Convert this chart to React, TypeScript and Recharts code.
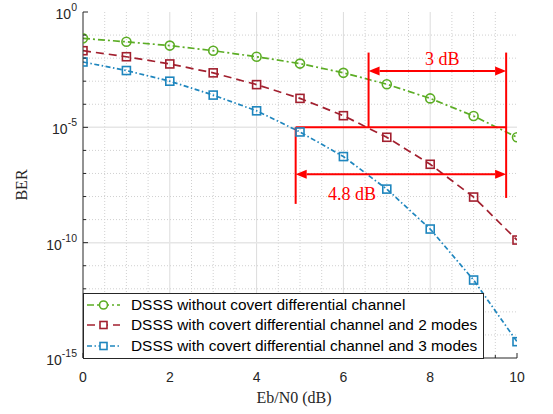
import React from 'react';
import { LineChart, Line, XAxis, YAxis, ReferenceLine, ReferenceDot, Legend } from 'recharts';

// ---- data ----
const snrDb = [0, 1, 2, 3, 4, 5, 6, 7, 8, 9, 10];
const berNoCovert = [7.2e-2, 5.1e-2, 3.5e-2, 2.1e-2, 1.15e-2, 5.8e-3, 2.3e-3, 7.4e-4, 1.8e-4, 3.1e-5, 3.7e-6];
const berTwoModes = [2.1e-2, 1.15e-2, 5.6e-3, 2.3e-3, 7.1e-4, 1.8e-4, 3.2e-5, 3.7e-6, 2.5e-7, 9.5e-9, 1.3e-10];
const berThreeModes = [6.8e-3, 2.9e-3, 1.0e-3, 2.5e-4, 5.2e-5, 6.3e-6, 5.4e-7, 2.1e-8, 3.9e-10, 2.4e-12, 5.1e-15];
const seriesNames = [
  'DSSS without covert differential channel',
  'DSSS with covert differential channel and 2 modes',
  'DSSS with covert differential channel and 3 modes',
];
const seriesColors = ['#5CAD25', '#A2202F', '#1F86BE'];
const seriesDash = ['7 3 2 3', '8 5', '5 2.5 1.5 2.5'];
const seriesMarker = ['circle', 'square', 'square'];

const xTicks = [0, 0.5, 1, 1.5, 2, 2.5, 3, 3.5, 4, 4.5, 5, 5.5, 6, 6.5, 7, 7.5, 8, 8.5, 9, 9.5, 10];
const xMajor = [0, 2, 4, 6, 8, 10];
const yTicks = [1e-15, 1e-14, 1e-13, 1e-12, 1e-11, 1e-10, 1e-9, 1e-8, 1e-7, 1e-6, 1e-5, 1e-4, 1e-3, 1e-2, 1e-1, 1];
const yMajor = [1e-15, 1e-10, 1e-5, 1];

// annotation (data coordinates)
const refLevel = 1e-5;
const gapLeftX = [6.58, 4.9];        // 3 dB, 4.8 dB left edges
const gapRightX = 9.75;
const gapArrowY = [2.75e-3, 9.3e-8];
const vertTop = 1.74e-2;
const vertBottomRight = 8.7e-9;
const vertBottomLeft48 = 4.8e-9;
const gapLabels = ['3 dB', '4.8 dB'];
const gapLabelX = [8.28, 6.2];
const gapLabelY = [9.1e-3, 1.26e-8];

const rows = snrDb.map((x, i) => ({ x, s0: berNoCovert[i], s1: berTwoModes[i], s2: berThreeModes[i] }));

const AXIS = '#262626';
const RED = '#FF0000';
const SANS = '"Liberation Sans", Arial, sans-serif';
const SERIF = '"Liberation Serif", "Times New Roman", serif';

const isMajorY = (v: number) => Math.round(Math.log10(v)) % 5 === 0;
const isMajorX = (v: number) => xMajor.includes(v);

const LeftYTick = (p: any) => {
  const v = p.payload.value;
  const exp = Math.round(Math.log10(v));
  const major = exp % 5 === 0;
  const ax = p.x + 6;
  return (
    <g>
      <line x1={ax} x2={ax + (major ? 5 : 3)} y1={p.y} y2={p.y} stroke={AXIS} strokeWidth={1} />
      {major && (
        <text x={p.x} y={p.y + 7} textAnchor="end" fill={AXIS} fontFamily={SANS} fontSize={14}>
          <tspan>10</tspan>
          <tspan dy={-8} fontSize={10.5}>{String(exp)}</tspan>
        </text>
      )}
    </g>
  );
};

const RightYTick = (p: any) => {
  const major = isMajorY(p.payload.value);
  return <line x1={p.x} x2={p.x - (major ? 5 : 3)} y1={p.y} y2={p.y} stroke={AXIS} strokeWidth={1} />;
};

const BottomXTick = (p: any) => {
  const v = p.payload.value;
  const major = isMajorX(v);
  return (
    <g>
      <line x1={p.x} x2={p.x} y1={p.y} y2={p.y - (major ? 5 : 3)} stroke={AXIS} strokeWidth={1} />
      {major && (
        <text x={p.x} y={p.y + 24} textAnchor="middle" fill={AXIS} fontFamily={SANS} fontSize={14}>
          {String(v)}
        </text>
      )}
    </g>
  );
};

const TopXTick = (p: any) => {
  const major = isMajorX(p.payload.value);
  return <line x1={p.x} x2={p.x} y1={p.y} y2={p.y + (major ? 5 : 3)} stroke={AXIS} strokeWidth={1} />;
};

const makeDot = (idx: number) => (p: any) => {
  const { cx, cy, index } = p;
  if (cx == null || cy == null) return <g key={`d${idx}-${index}`} />;
  const c = seriesColors[idx];
  if (seriesMarker[idx] === 'circle') {
    return <circle key={`d${idx}-${index}`} cx={cx} cy={cy} r={4.5} fill="none" stroke={c} strokeWidth={1.6} />;
  }
  return <rect key={`d${idx}-${index}`} x={cx - 4} y={cy - 4} width={8} height={8} fill="none" stroke={c} strokeWidth={1.6} />;
};

const DoubleArrow = (p: any) => {
  const { x1, y1, x2, y2 } = p;
  const L = 11;
  const W = 4.5;
  const a = Math.min(x1, x2);
  const b = Math.max(x1, x2);
  const y = y1;
  return (
    <g>
      <line x1={a + L} x2={b - L} y1={y} y2={y2} stroke={RED} strokeWidth={2} />
      <polygon points={`${a},${y} ${a + L},${y - W} ${a + L},${y + W}`} fill={RED} />
      <polygon points={`${b},${y} ${b - L},${y - W} ${b - L},${y + W}`} fill={RED} />
    </g>
  );
};

const RedLine = (p: any) => (
  <line x1={p.x1} y1={p.y1} x2={p.x2} y2={p.y2} stroke={RED} strokeWidth={2} />
);

const makeLabel = (text: string) => (p: any) => (
  <text x={p.cx} y={p.cy} textAnchor="middle" dominantBaseline="central" fill={RED} fontFamily={SERIF} fontSize={18}>
    {text}
  </text>
);

const LegendBox = () => (
  <div
    style={{
      position: 'relative',
      width: 401,
      height: 66,
      boxSizing: 'border-box',
      border: `1px solid ${AXIS}`,
      background: '#fff',
      fontFamily: SANS,
      fontSize: 15.4,
      color: '#000',
    }}
  >
    {seriesNames.map((name, i) => {
      const c = seriesColors[i];
      const cy = 11 + i * 20.5;
      return (
        <div key={name} style={{ position: 'absolute', left: 0, top: cy - 10, height: 20, width: 399 }}>
          <svg width={44} height={20} style={{ position: 'absolute', left: 0, top: 0 }}>
            <line x1={3} x2={36} y1={10} y2={10} stroke={c} strokeWidth={1.6} strokeDasharray={seriesDash[i]} />
            {seriesMarker[i] === 'circle' ? (
              <circle cx={19.5} cy={10} r={4} fill="#fff" stroke={c} strokeWidth={1.6} />
            ) : (
              <rect x={16} y={6.5} width={7} height={7} fill="#fff" stroke={c} strokeWidth={1.6} />
            )}
          </svg>
          <span style={{ position: 'absolute', left: 47, top: 0, lineHeight: '20px', whiteSpace: 'nowrap' }}>{name}</span>
        </div>
      );
    })}
  </div>
);

export default function App() {
  return (
    <div style={{ position: 'absolute', left: 0, top: 0, width: 553, height: 414, background: '#fff' }}>
      <LineChart width={553} height={414} data={rows} margin={{ top: 12, right: 36, bottom: 0, left: 0 }}>
        <XAxis
          dataKey="x"
          type="number"
          domain={[0, 10]}
          ticks={xTicks}
          interval={0}
          tickSize={0}
          tickMargin={0}
          height={56}
          stroke={AXIS}
          tick={BottomXTick}
          allowDataOverflow
          label={(lp: any) => {
            const vb = lp.viewBox || {};
            return (
              <text x={(vb.x ?? 83) + (vb.width ?? 434) / 2 - 6} y={(vb.y ?? 358) + 45} textAnchor="middle" fill={AXIS} fontFamily={SERIF} fontSize={16}>
                Eb/N0 (dB)
              </text>
            );
          }}
        />
        <XAxis
          xAxisId="top"
          orientation="top"
          dataKey="x"
          type="number"
          domain={[0, 10]}
          ticks={xTicks}
          interval={0}
          tickSize={0}
          tickMargin={0}
          height={0}
          stroke={AXIS}
          tick={TopXTick}
          allowDataOverflow
        />
        <YAxis
          type="number"
          scale="log"
          domain={[1e-15, 1]}
          ticks={yTicks}
          interval={0}
          tickSize={0}
          tickMargin={6}
          width={83}
          stroke={AXIS}
          tick={LeftYTick}
          allowDataOverflow
          label={(lp: any) => {
            const vb = lp.viewBox || {};
            const cy = (vb.y ?? 12) + (vb.height ?? 346) / 2;
            return (
              <text x={27} y={cy} transform={`rotate(-90 27 ${cy})`} textAnchor="middle" fill={AXIS} fontFamily={SERIF} fontSize={16}>
                BER
              </text>
            );
          }}
        />
        <YAxis
          yAxisId="right"
          orientation="right"
          type="number"
          scale="log"
          domain={[1e-15, 1]}
          ticks={yTicks}
          interval={0}
          tickSize={0}
          tickMargin={0}
          width={0}
          stroke={AXIS}
          tick={RightYTick}
          allowDataOverflow
        />

        {xTicks.filter((v) => v > 0 && v < 10).map((v) => (
          <ReferenceLine
            key={`gx${v}`}
            x={v}
            stroke={isMajorX(v) ? '#DCDCDC' : '#D0D0D0'}
            strokeWidth={1}
            strokeDasharray={isMajorX(v) ? undefined : '1 2'}
          />
        ))}
        {yTicks.filter((v) => v > 1e-15 && v < 1).map((v) => (
          <ReferenceLine
            key={`gy${v}`}
            y={v}
            stroke={isMajorY(v) ? '#E6E6E6' : '#D0D0D0'}
            strokeWidth={isMajorY(v) ? 1.5 : 1}
            strokeDasharray={isMajorY(v) ? undefined : '1 2'}
          />
        ))}

        {['s0', 's1', 's2'].map((k, i) => (
          <Line
            key={k}
            dataKey={k}
            name={seriesNames[i]}
            stroke={seriesColors[i]}
            strokeWidth={1.7}
            strokeDasharray={seriesDash[i]}
            dot={makeDot(i)}
            activeDot={false}
            isAnimationActive={false}
          />
        ))}

        {/* red annotations */}
        <ReferenceLine segment={[{ x: gapLeftX[1], y: refLevel }, { x: gapRightX, y: refLevel }]} shape={RedLine} />
        <ReferenceLine segment={[{ x: gapLeftX[0], y: vertTop }, { x: gapLeftX[0], y: refLevel }]} shape={RedLine} />
        <ReferenceLine segment={[{ x: gapRightX, y: vertTop }, { x: gapRightX, y: vertBottomRight }]} shape={RedLine} />
        <ReferenceLine segment={[{ x: gapLeftX[1], y: refLevel }, { x: gapLeftX[1], y: vertBottomLeft48 }]} shape={RedLine} />
        {gapArrowY.map((y, i) => (
          <ReferenceLine key={`arr${i}`} segment={[{ x: gapLeftX[i], y }, { x: gapRightX, y }]} shape={DoubleArrow} />
        ))}
        {gapLabels.map((t, i) => (
          <ReferenceDot key={`lab${i}`} x={gapLabelX[i]} y={gapLabelY[i]} r={0} shape={makeLabel(t)} />
        ))}

        <Legend
          layout="vertical"
          align="center"
          verticalAlign="middle"
          content={LegendBox}
          wrapperStyle={{ position: 'absolute', left: 83, top: 292.5, width: 401, height: 66 }}
        />
      </LineChart>
    </div>
  );
}
